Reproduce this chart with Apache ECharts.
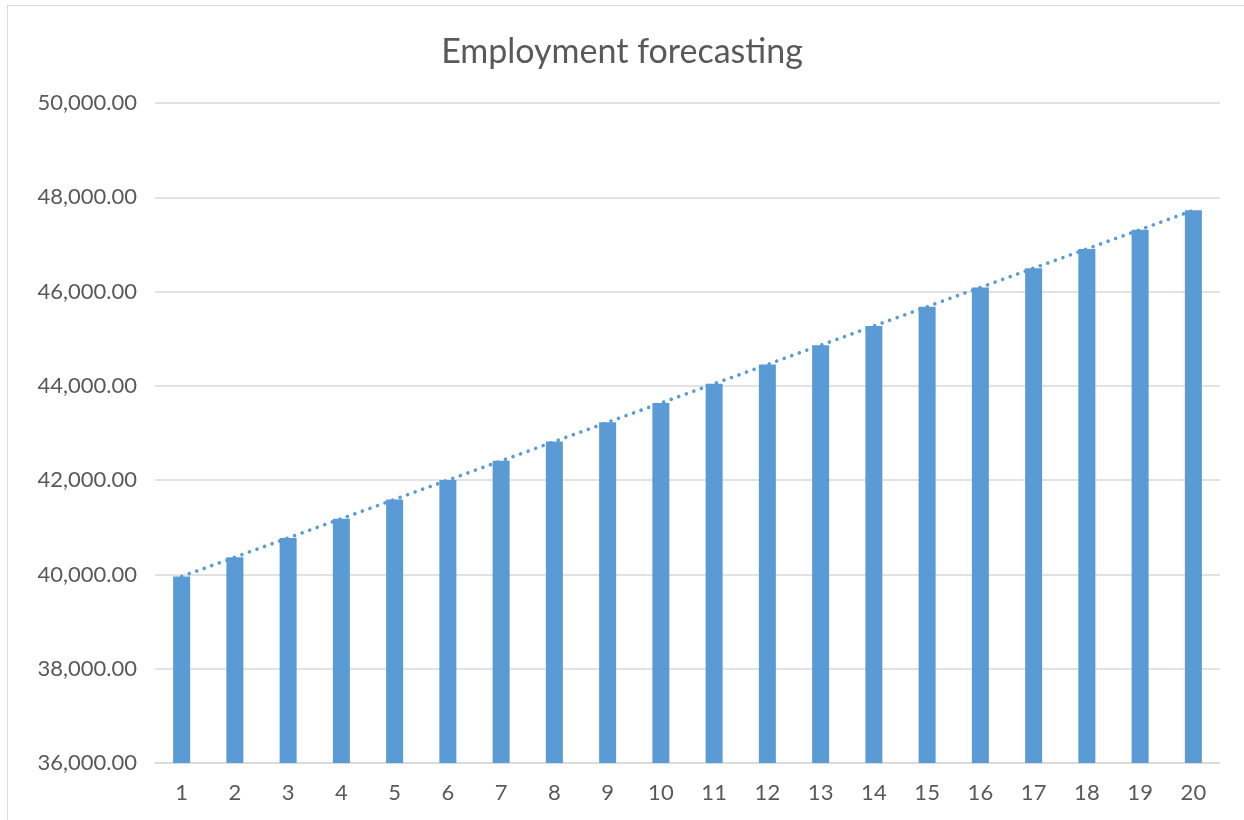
<!DOCTYPE html>
<html>
<head>
<meta charset="utf-8">
<script src="https://cdn.jsdelivr.net/npm/echarts@6/dist/echarts.min.js"></script>
<style>
html,body{margin:0;padding:0;background:#fff;overflow:hidden;}
#frame{position:absolute;left:7px;top:5px;width:1250px;height:830px;border:1px solid #d9d9d9;box-sizing:border-box;}
#chart{position:absolute;left:0;top:0;width:1244px;height:820px;}
</style>
</head>
<body>
<div id="frame"></div>
<div id="chart"></div>
<script>
const categories = ['1','2','3','4','5','6','7','8','9','10','11','12','13','14','15','16','17','18','19','20'];
const employment = [39957,40366,40775,41183,41592,42001,42409,42818,43227,43636,44044,44453,44862,45270,45679,46088,46497,46905,47314,47723];
const trend = [39957,40366,40775,41183,41592,42001,42409,42818,43227,43636,44044,44453,44862,45270,45679,46088,46497,46905,47314,47723];
const yMin = 36000, yMax = 50000, yStep = 2000;

const chart = echarts.init(document.getElementById('chart'), null, {renderer:'canvas'});
const fmt = v => v.toLocaleString('en-US',{minimumFractionDigits:2,maximumFractionDigits:2});
chart.setOption({
  backgroundColor:'transparent',
  animation:false,
  title:{text:'Employment forecasting',left:'center',top:30,
    textStyle:{fontFamily:'Lato',fontWeight:'normal',fontSize:34,color:'#595959'}},
  grid:{left:155,right:24,top:103,bottom:57,containLabel:false},
  xAxis:{type:'category',data:categories,
    axisLine:{lineStyle:{color:'#d9d9d9',width:1.5}},
    axisTick:{show:false},
    axisLabel:{color:'#595959',fontSize:22,fontFamily:'Lato',margin:19}},
  yAxis:{type:'value',min:yMin,max:yMax,interval:yStep,
    axisLine:{show:false},axisTick:{show:false},
    splitLine:{lineStyle:{color:'#d9d9d9',width:1.5}},
    axisLabel:{color:'#595959',fontSize:22,fontFamily:'Lato',margin:18,formatter:fmt}},
  series:[
    {type:'bar',data:employment,barWidth:17,itemStyle:{color:'#5B9BD5'},z:2},
    {type:'line',data:trend,symbol:'none',z:3,
      lineStyle:{color:'#5B9BD5',width:3.6,type:[0.01,8],cap:'round'}}
  ]
});
</script>
</body>
</html>
